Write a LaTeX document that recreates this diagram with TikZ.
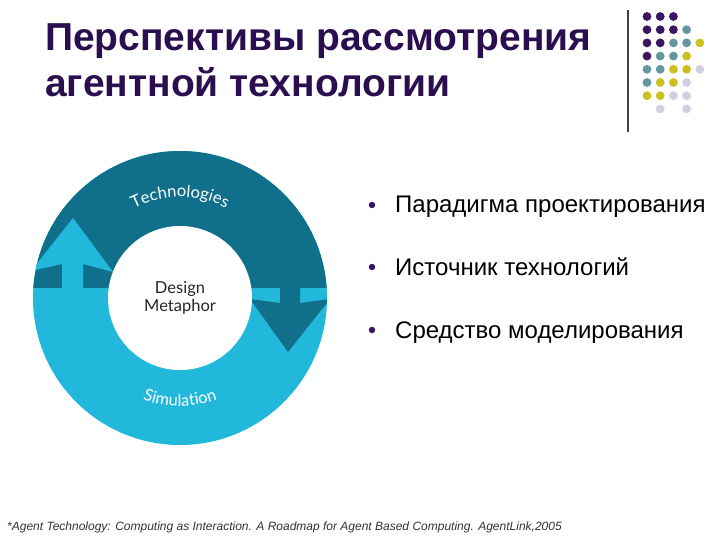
\documentclass[tikz,border=0pt]{standalone}
\usepackage{fontspec}
\setmainfont{Liberation Sans}
\newfontfamily\ringfont{Lato}
\usetikzlibrary{decorations.text}
\definecolor{titlepurple}{RGB}{42,14,80}
\definecolor{ringdark}{RGB}{16,112,140}
\definecolor{ringlight}{RGB}{33,184,220}
\definecolor{dotpurple}{RGB}{58,22,98}
\definecolor{dotteal}{RGB}{100,150,160}
\definecolor{dotyellow}{RGB}{204,192,32}
\definecolor{dotgrey}{RGB}{208,208,226}
\begin{document}
\begin{tikzpicture}[x=1pt, y=-1pt,
       headline/.style={anchor=base west, inner sep=0pt, text=titlepurple,
         font=\fontsize{39}{39}\selectfont\bfseries},
       itemtext/.style={anchor=base west, inner sep=0pt,
         font=\fontsize{24}{24}\selectfont},
       itemdot/.style={circle, fill=dotpurple, inner sep=0pt, minimum size=6.5pt},
       ringlabel/.style={decorate, decoration={text along path, text align=center,
         text color=white, text={|\ringfont\fontsize{16.5}{17}\selectfont|#1}}}]
      \useasboundingbox[fill=white] (0,0) rectangle (720,540);

      % title
      \node[headline] (head1) at (45,51) {Перспективы рассмотрения};
      \node[headline] (head2) at (45,97) {агентной технологии};

      % corner dots
      \coordinate (bartop) at (628,10);
      \coordinate (barbot) at (628,132);
      \draw[line width=1.3pt, black!75] (bartop) -- (barbot);
      \foreach \c/\r/\clr in {0/0/dotpurple, 1/0/dotpurple, 2/0/dotpurple,
          0/1/dotpurple, 1/1/dotpurple, 2/1/dotpurple, 3/1/dotteal,
          0/2/dotpurple, 1/2/dotpurple, 2/2/dotteal, 3/2/dotteal, 4/2/dotyellow,
          0/3/dotpurple, 1/3/dotteal, 2/3/dotteal, 3/3/dotyellow,
          0/4/dotteal, 1/4/dotteal, 2/4/dotyellow, 3/4/dotyellow, 4/4/dotgrey,
          0/5/dotteal, 1/5/dotyellow, 2/5/dotyellow, 3/5/dotgrey,
          0/6/dotyellow, 1/6/dotyellow, 2/6/dotgrey, 3/6/dotgrey,
          1/7/dotgrey, 3/7/dotgrey}
        \fill[\clr] (647+13.2*\c, 16.5+13.2*\r) circle[radius=4.4];

      % ring
      \coordinate (ctr) at (180,298);
      \fill[ringlight] (ctr) circle[radius=147];
      \begin{scope}
        \clip (0,130) rectangle (360,287);
        \fill[ringdark] (ctr) circle[radius=147];
      \end{scope}
      \begin{scope}
        \clip (ctr) circle[radius=147];
        \fill[ringlight] (62,292) -- (62,264) -- (31,271) -- (73,218) -- (113,272)
          -- (83,264) -- (83,292) -- cycle;
        \fill[ringdark] (280,284) -- (280,303) -- (250,299) -- (288,352) -- (330,299)
          -- (300,303) -- (300,284) -- cycle;
      \end{scope}
      \fill[white] (ctr) circle[radius=72];
      \path[ringlabel=Technologies] ([shift={(-150:101)}]ctr) arc[start angle=-150, end angle=-30, radius=101];
      \path[ringlabel=Simulation] ([shift={(150:108)}]ctr) arc[start angle=150, end angle=30, radius=108];
      \node[align=center, text=black!85, font=\ringfont\fontsize{16.5}{18}\selectfont] (metaphor) at (180,298) {Design\\Metaphor};

      % items
      \node[itemdot] (dot1) at (372,205) {};
      \node[itemdot] (dot2) at (372,267) {};
      \node[itemdot] (dot3) at (372,330) {};
      \node[itemtext] (item1) at (395,213) {Парадигма проектирования};
      \node[itemtext] (item2) at (395,275) {Источник технологий};
      \node[itemtext] (item3) at (395,338) {Средство моделирования};

      \node[anchor=base west, inner sep=0pt, text=black!80,
        font=\fontsize{12}{12}\selectfont\itshape] (source) at (7,530)
        {*Agent Technology: Computing as Interaction. A Roadmap for Agent Based Computing. AgentLink,2005};
\end{tikzpicture}
\end{document}
